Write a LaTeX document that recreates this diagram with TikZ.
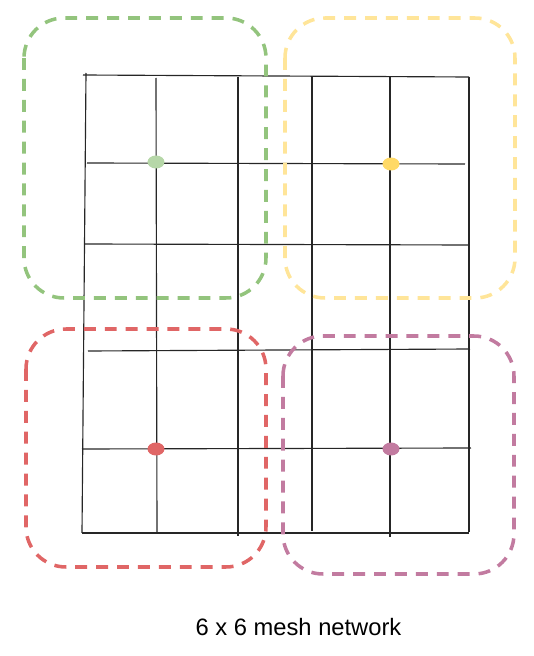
\documentclass[tikz,border=0pt]{standalone}
\usepackage{fontspec}
\setmainfont{Liberation Sans}
\usetikzlibrary{shapes.geometric}
\definecolor{zonegreen}{HTML}{93C47D}
\definecolor{zoneyellow}{HTML}{FFE599}
\definecolor{zonered}{HTML}{E06666}
\definecolor{zonepurple}{HTML}{C27BA0}
\definecolor{dotgreen}{HTML}{B6D7A8}
\definecolor{dotyellow}{HTML}{FFD966}
\begin{document}
\begin{tikzpicture}[scale=1.0,
  wire/.style={line width=0.65pt, black!85},
  zone/.style={line width=2pt, dash pattern=on 6.8pt off 5.1pt, rounded corners=0.8cm},
  router/.style={ellipse, minimum width=0.34cm, minimum height=0.26cm, inner sep=0pt}]
\useasboundingbox (0,0) rectangle (10.68,13.12);

\draw[wire] (1.66,11.62) -- (9.38,11.58);
\draw[wire] (1.74,9.86) -- (9.30,9.84);
\draw[wire] (1.70,8.24) -- (9.38,8.22);
\draw[wire] (1.76,6.10) -- (9.40,6.14);
\draw[wire] (1.64,4.14) -- (9.42,4.16);
\draw[wire] (1.64,2.46) -- (9.38,2.46);

\draw[wire] (1.72,11.66) -- (1.64,2.46);
\draw[wire] (3.12,11.56) -- (3.14,2.46);
\draw[wire] (4.76,11.58) -- (4.76,2.40);
\draw[wire] (6.24,11.58) -- (6.24,2.50);
\draw[wire] (7.80,11.58) -- (7.80,2.38);
\draw[wire] (9.38,11.58) -- (9.38,2.48);

\draw[zone, zonegreen] (0.48,12.76) rectangle (5.32,7.16);
\draw[zone, zoneyellow] (5.70,12.76) rectangle (10.30,7.16);
\draw[zone, zonered] (0.52,6.54) rectangle (5.32,1.78);
\draw[zone, zonepurple] (5.66,6.40) rectangle (10.28,1.64);

\node[router, fill=dotgreen] (green) at (3.12,9.88) {};
\node[router, fill=dotyellow] (yellow) at (7.82,9.84) {};
\node[router, fill=zonered] (red) at (3.12,4.14) {};
\node[router, fill=zonepurple] (purple) at (7.82,4.14) {};

\node[anchor=base, font=\fontsize{13.5}{16}\selectfont] (caption) at (5.97,0.40) {6 x 6 mesh network};
\end{tikzpicture}
\end{document}
